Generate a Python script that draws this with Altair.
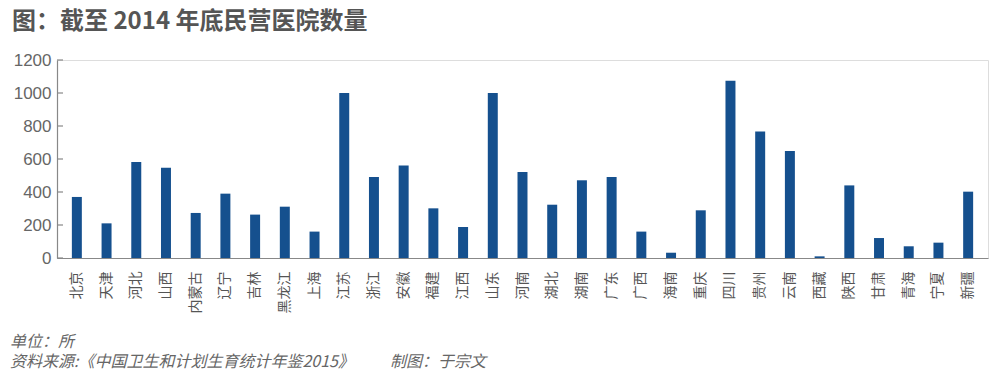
import altair as alt
import pandas as pd

provinces = ["北京", "天津", "河北", "山西", "内蒙古", "辽宁", "吉林", "黑龙江", "上海", "江苏",
             "浙江", "安徽", "福建", "江西", "山东", "河南", "湖北", "湖南", "广东", "广西",
             "海南", "重庆", "四川", "贵州", "云南", "西藏", "陕西", "甘肃", "青海", "宁夏", "新疆"]
counts = [370, 210, 582, 547, 273, 390, 263, 311, 160, 1000,
          491, 560, 301, 188, 1000, 521, 323, 471, 491, 160,
          32, 289, 1075, 766, 648, 10, 440, 121, 71, 93, 402]
y_ticks = [0, 200, 400, 600, 800, 1000, 1200]

title_text = "图：截至 2014 年底民营医院数量"
unit_text = "单位：所"
source_text = "资料来源:《中国卫生和计划生育统计年鉴2015》"
maker_text = "制图：于宗文"

df = pd.DataFrame({"province": provinces, "count": counts})
ticks_df = pd.DataFrame({"v": y_ticks})

yscale = alt.Scale(domain=[0, 1200], nice=False)
y_axis = alt.Axis(title=None, values=y_ticks, tickSize=0, labelPadding=6,
                  labelFontSize=17, labelColor="#666666", format="d",
                  labelOverlap=False, labelFont="Liberation Sans", grid=False,
                  domainColor="#888888", domainWidth=1.2)

bars = alt.Chart(df).mark_bar(color="#15508e").encode(
    x=alt.X("province:N", sort=provinces,
            scale=alt.Scale(paddingInner=0.664, paddingOuter=0.5),
            axis=alt.Axis(title=None, labelAngle=-90, ticks=False, labelPadding=13,
                          labelFontSize=14, labelColor="#555555",
                          labelFont="Noto Sans CJK SC", domainColor="#888888",
                          domainWidth=1.2)),
    y=alt.Y("count:Q", scale=yscale, axis=y_axis),
)

tick_rules = alt.Chart(ticks_df).mark_rule(color="#888888", strokeWidth=1.2).encode(
    y=alt.Y("v:Q", scale=yscale, axis=y_axis),
    x=alt.value(0),
    x2=alt.value(6),
)

def label(text, x, y, size, bold=False, italic=False, color="#666666"):
    return alt.Chart(pd.DataFrame({"t": [text]})).mark_text(
        align="left", baseline="middle", fontSize=size,
        font="Noto Sans CJK SC",
        fontWeight="bold" if bold else "normal",
        fontStyle="italic" if italic else "normal",
        color=color,
    ).encode(x=alt.value(x), y=alt.value(y), text="t:N")

title = label(title_text, -45, -38, 24, bold=True, color="#555555")
unit = label(unit_text, -47, 282, 16, italic=True)
source = label(source_text, -47, 302, 16, italic=True)
maker = label(maker_text, 333, 302, 16, italic=True)

chart = alt.layer(bars, tick_rules, title, unit, source, maker).properties(
    width=931, height=198,
    autosize=alt.AutoSizeParams(type="none"),
    padding={"left": 49, "top": 52, "right": 4, "bottom": 118},
).configure_view(stroke=None).configure(background="white")

chart.save("out.html", embed_options={"renderer": "svg", "actions": False})
